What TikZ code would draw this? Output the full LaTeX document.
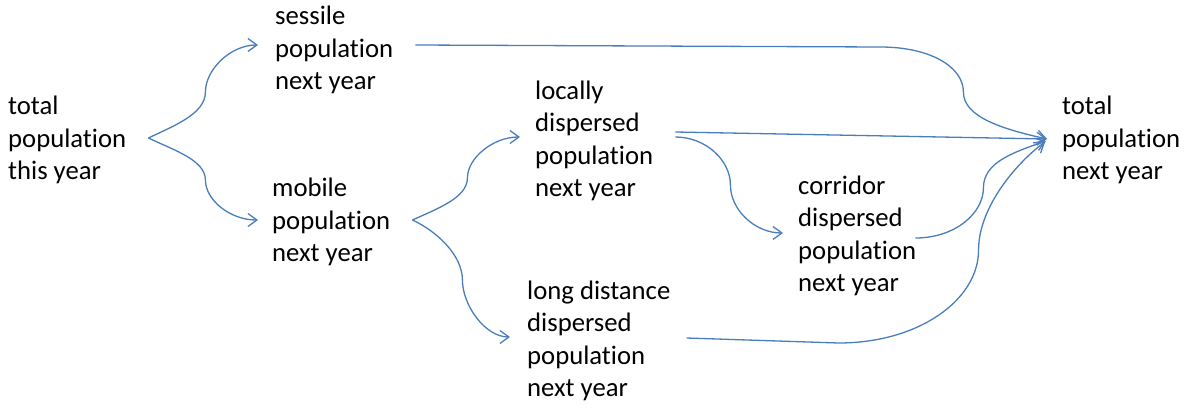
\documentclass[tikz,border=0pt]{standalone}
\usepackage{fontspec}
\setmainfont{Carlito}[Ligatures={NoCommon,NoRare,NoContextual}]
\usetikzlibrary{arrows.meta,calc}
\definecolor{linkblue}{HTML}{4A7EBB}
\begin{document}
\begin{tikzpicture}[x=1pt,y=-1pt,
  lbl/.style={anchor=west,inner sep=0pt,align=left,font=\fontsize{26.7}{32.3}\selectfont},
  conn/.style={draw=linkblue,line width=1.3pt,-{Straight Barb[length=9pt,width=13pt,line width=1.3pt]}}]
\useasboundingbox (0,0) rectangle (1188,407);
\node[lbl] (tty) at (8,140) {total\\population\\this year};
\node[lbl] (ses) at (275,50) {sessile\\population\\next year};
\node[lbl] (mob) at (272,222) {mobile\\population\\next year};
\node[lbl] (loc) at (535,141) {locally\\dispersed\\population\\next year};
\node[lbl] (lng) at (527,341) {long distance\\dispersed\\population\\next year};
\node[lbl] (cor) at (798,236) {corridor\\dispersed\\population\\next year};
\node[lbl] (tnx) at (1062,140) {total\\population\\next year};
% from total this year
\draw[conn] ($(tty.east)+(22,-2)$) .. controls +(25,-12) and +(0,22) .. ++(57,-46)
  .. controls +(0,-22) and +(-28,0) .. ($(ses.west)+(-17,-5)$);
\draw[conn] ($(tty.east)+(22,-2)$) .. controls +(25,12) and +(0,-20) .. ++(57,42)
  .. controls +(0,20) and +(-28,0) .. ($(mob.west)+(-14,-2)$);
% sessile to total next year
\draw[conn] ($(ses.east)+(22,-5)$) -- ++(465,2) .. controls +(50,0) and +(0,-25) .. ++(83,45)
  .. controls +(0,25) and +(-45,-10) .. ($(tnx.west)+(-15,-1)$);
% mobile branches
\draw[conn] ($(mob.east)+(22,-2)$) .. controls +(24,-11) and +(0,20) .. ++(55,-42)
  .. controls +(0,-20) and +(-27,0) .. ($(loc.west)+(-15,-4)$);
\draw[conn] ($(mob.east)+(22,-2)$) .. controls +(24,11) and +(0,-25) .. ++(50,60)
  .. controls +(0,25) and +(-25,0) .. ($(lng.west)+(-17,-4)$);
% locally dispersed
\draw[conn] ($(loc.east)+(22,-9)$) -- ($(tnx.west)+(-15,-1)$);
\draw[conn] ($(loc.east)+(22,-4)$) .. controls +(30,0) and +(0,-25) .. ++(55,48)
  .. controls +(0,25) and +(-28,0) .. ($(cor.west)+(-15,-3)$);
% corridor
\draw[conn] ($(cor.east)+(-1,2)$) .. controls +(40,0) and +(0,25) .. ++(68,-50)
  .. controls +(0,-25) and +(-35,12) .. ($(tnx.west)+(-16,1)$);
% long distance
\draw[conn] ($(lng.east)+(16,-3)$) -- ++(152,5) .. controls +(80,0) and +(0,50) .. ++(140,-93)
  .. controls +(0,-45) and +(-25,18) .. ($(tnx.west)+(-17,2)$);
\end{tikzpicture}
\end{document}
